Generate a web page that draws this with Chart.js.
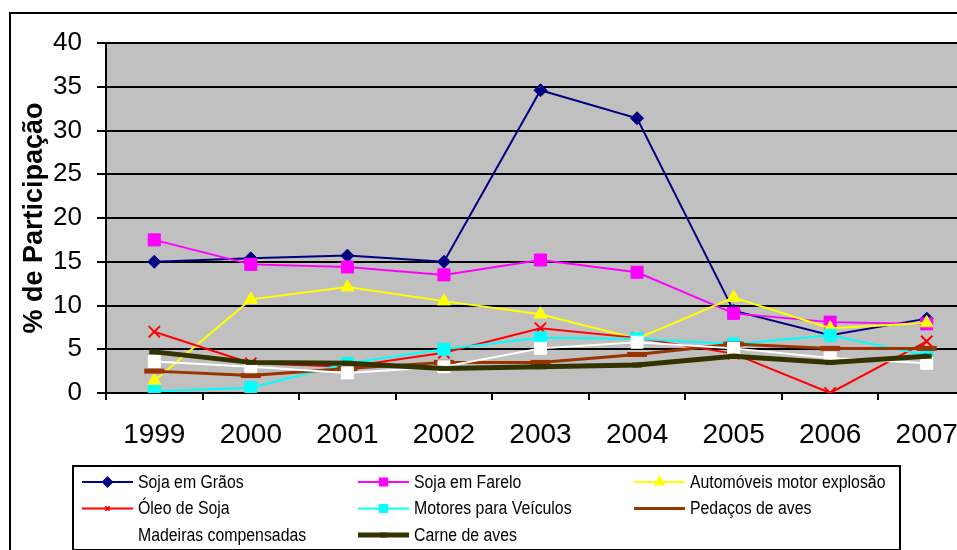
<!DOCTYPE html>
<html>
<head>
<meta charset="utf-8">
<title>% de Participação</title>
<script src="https://cdn.jsdelivr.net/npm/chart.js@4.4.1/dist/chart.umd.min.js"></script>
<style>
    html, body { margin: 0; padding: 0; background: #ffffff; overflow: hidden; }
    #wrap { width: 957px; height: 550px; overflow: hidden; }
</style>
</head>
<body>
<div id="wrap">
    <canvas id="partChart" width="1000" height="550"></canvas>
</div>
<script>
// anos e participação (%) de cada produto
const years = ["1999", "2000", "2001", "2002", "2003", "2004", "2005", "2006", "2007"];
const yTicks = [0, 5, 10, 15, 20, 25, 30, 35, 40];

const sojaGraos    = [15.0, 15.4, 15.7, 15.0, 34.6, 31.4, 9.4, 6.6, 8.5];
const sojaFarelo   = [17.5, 14.7, 14.4, 13.5, 15.2, 13.8, 9.1, 8.1, 7.9];
const automoveis   = [1.4, 10.7, 12.1, 10.5, 9.0, 6.2, 10.9, 7.4, 8.0];
const oleoSoja     = [7.0, 3.4, 3.0, 4.6, 7.4, 6.3, 4.5, 0.0, 5.9];
const motores      = [0.2, 0.6, 3.4, 5.0, 6.3, 6.2, 5.6, 6.6, 4.3];
const pedacosAves  = [2.5, 2.0, 2.8, 3.5, 3.5, 4.4, 5.6, 5.1, 5.1];
const madeiras     = [3.6, 3.0, 2.3, 3.0, 5.1, 5.8, 5.1, 4.0, 3.4];
const carneAves    = [4.7, 3.5, 3.4, 2.8, 3.0, 3.2, 4.2, 3.5, 4.2];

const series = [
    { label: "Soja em Grãos", data: sojaGraos, color: "#000080", width: 2, style: "rectRot", r: 6.5, bw: 1 },
    { label: "Soja em Farelo", data: sojaFarelo, color: "#FF00FF", width: 2, style: "rect", r: 8.5, bw: 1 },
    { label: "Automóveis motor explosão", data: automoveis, color: "#FFFF00", width: 2, style: "triangle", r: 7.5, bw: 1 },
    { label: "Óleo de Soja", data: oleoSoja, color: "#FF0000", width: 2, style: "crossRot", r: 8, bw: 2 },
    { label: "Motores para Veículos", data: motores, color: "#00FFFF", width: 2, style: "rect", r: 8.5, bw: 1 },
    { label: "Pedaços de aves", data: pedacosAves, color: "#993300", width: 3, style: "line", r: 10, bw: 5 },
    { label: "Madeiras compensadas", data: madeiras, color: "#FFFFFF", width: 2, style: "rect", r: 8.5, bw: 1 },
    { label: "Carne de aves", data: carneAves, color: "#333300", width: 5, style: "line", r: 5, bw: 5 }
];

// legend marker sizes (smaller than on the plot)
const legendMarks = [
    { r: 4.5, bw: 1 }, { r: 5, bw: 1 }, { r: 5, bw: 1 }, { r: 3, bw: 1.5 },
    { r: 5, bw: 1 }, { r: 5, bw: 5 }, { r: 5, bw: 1 }, { r: 3, bw: 7 }
];

const datasets = series.map((s, i) => ({
    label: s.label,
    data: s.data,
    borderColor: s.color,
    backgroundColor: s.color,
    borderWidth: s.width,
    pointStyle: s.style,
    pointRadius: s.r,
    pointBorderWidth: s.bw,
    pointBackgroundColor: s.color,
    pointBorderColor: s.color,
    tension: 0,
    // later series drawn over earlier ones
    order: series.length - i
}));

// grey plot area + outer frame
const backdrop = {
    id: "backdrop",
    beforeDraw(chart) {
        const { ctx, chartArea } = chart;
        ctx.save();
        ctx.fillStyle = "#ffffff";
        ctx.fillRect(0, 0, chart.width, chart.height);
        ctx.fillStyle = "#C0C0C0";
        ctx.fillRect(chartArea.left, chartArea.top, chartArea.right - chartArea.left, chartArea.bottom - chartArea.top);
        ctx.strokeStyle = "#000000";
        ctx.lineWidth = 2;
        ctx.strokeRect(10, 13, 1200, 800);
        ctx.restore();
    }
};

// three column legend in a box under the axis
const boxLegend = {
    id: "boxLegend",
    afterDraw(chart) {
        const ctx = chart.ctx;
        const cols = [82, 358, 634];
        const rows = [482, 508.5, 535];
        const lineLen = 51;
        ctx.save();
        ctx.strokeStyle = "#000000";
        ctx.lineWidth = 2;
        ctx.strokeRect(73, 466, 827, 84);

        chart.data.datasets.forEach((ds, i) => {
            const x = cols[i % 3];
            const y = rows[Math.floor(i / 3)];
            ctx.strokeStyle = ds.borderColor;
            ctx.fillStyle = ds.borderColor;
            ctx.lineWidth = Math.min(ds.borderWidth, 5);
            ctx.beginPath();
            ctx.moveTo(x, y);
            ctx.lineTo(x + lineLen, y);
            ctx.stroke();
            const m = legendMarks[i];
            Chart.helpers.drawPoint(ctx, {
                pointStyle: ds.pointStyle,
                radius: m.r,
                borderWidth: m.bw,
                rotation: 0
            }, x + lineLen / 2, y);

            ctx.save();
            ctx.fillStyle = "#000000";
            ctx.font = "18px 'Liberation Sans', Arial, sans-serif";
            ctx.textBaseline = "middle";
            ctx.translate(x + lineLen + 5, y);
            ctx.scale(0.88, 1);
            ctx.fillText(ds.label, 0, 1);
            ctx.restore();
        });
        ctx.restore();
    }
};

new Chart("partChart", {
    type: "line",
    data: {
        labels: years,
        datasets: datasets
    },
    options: {
        responsive: false,
        animation: false,
        events: [],
        layout: {
            padding: { left: 0, top: 43, right: 25, bottom: 0 }
        },
        scales: {
            x: {
                offset: true,
                afterFit: (scale) => { scale.height = 157; },
                border: { display: true, color: "#000000", width: 2 },
                grid: {
                    offset: true,
                    drawOnChartArea: false,
                    drawTicks: true,
                    tickLength: 7,
                    color: "#000000",
                    lineWidth: 2
                },
                ticks: {
                    color: "#000000",
                    padding: 18,
                    maxRotation: 0,
                    font: { family: "'Liberation Sans', Arial, sans-serif", size: 28 }
                }
            },
            y: {
                min: 0,
                max: 40,
                afterFit: (scale) => { scale.width = 106; },
                afterBuildTicks: (scale) => { scale.ticks = yTicks.map(v => ({ value: v })); },
                border: { display: true, color: "#000000", width: 2 },
                grid: {
                    color: "#000000",
                    lineWidth: 2,
                    drawTicks: true,
                    tickLength: 9
                },
                ticks: {
                    color: "#000000",
                    padding: 15,
                    font: { family: "'Liberation Sans', Arial, sans-serif", size: 26 }
                },
                title: {
                    display: true,
                    text: "% de Participação",
                    color: "#000000",
                    padding: { top: 18, bottom: 0 },
                    font: { family: "'Liberation Sans', Arial, sans-serif", size: 27, weight: "bold" }
                }
            }
        },
        plugins: {
            legend: { display: false },
            tooltip: { enabled: false },
            title: { display: false }
        }
    },
    plugins: [backdrop, boxLegend]
});
</script>
</body>
</html>
